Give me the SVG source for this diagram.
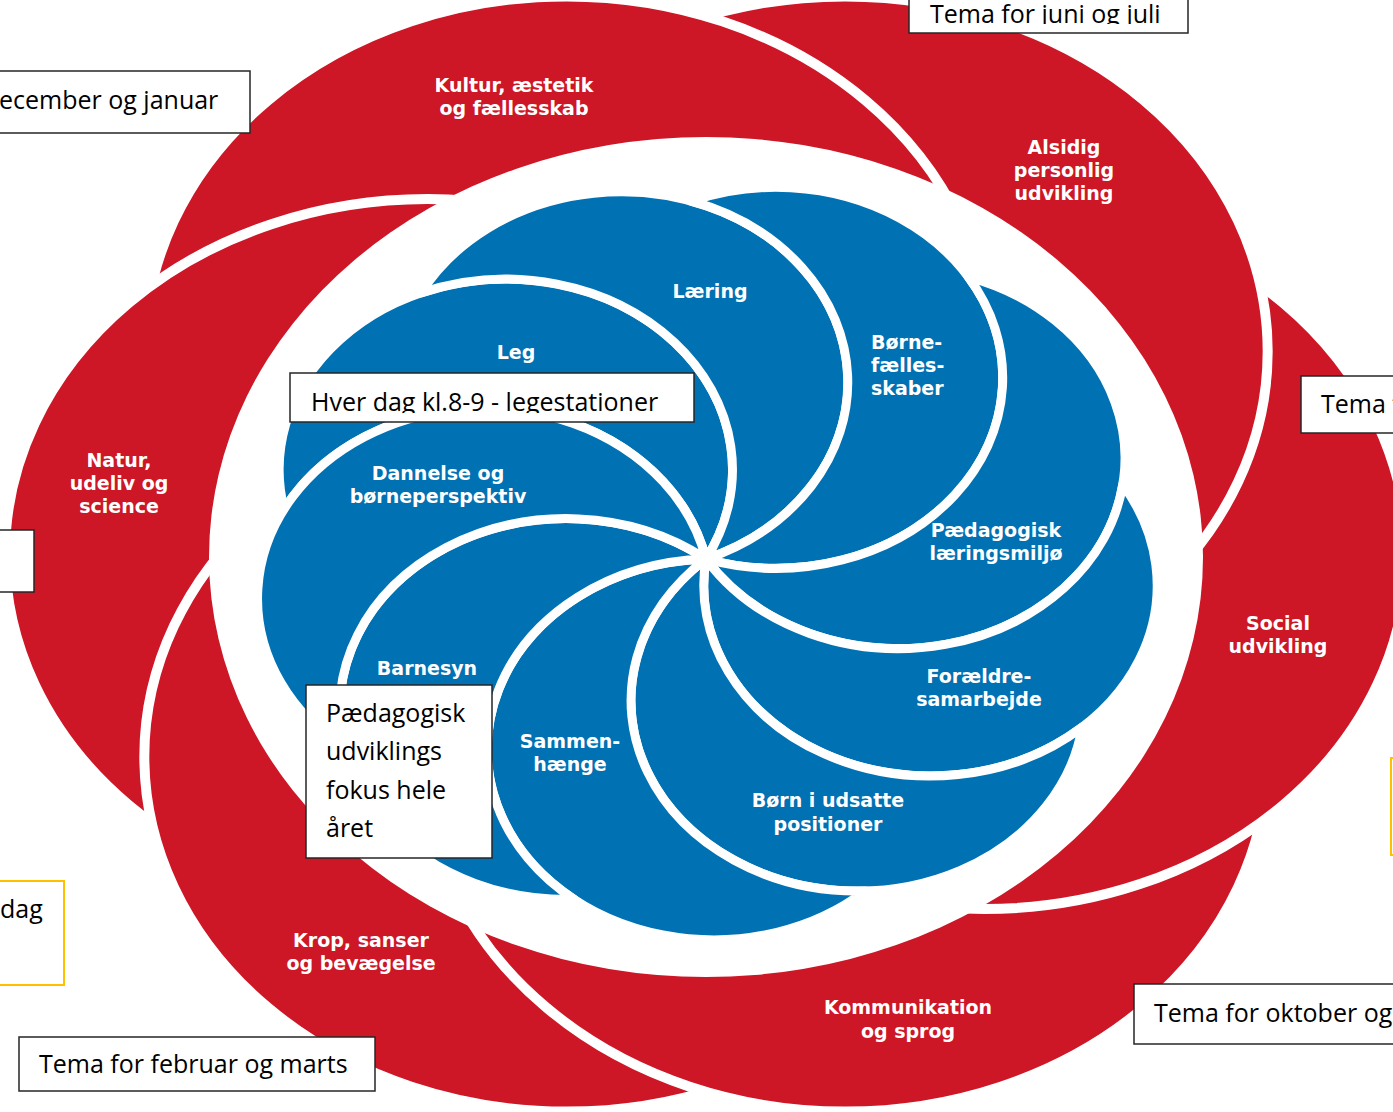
<svg xmlns="http://www.w3.org/2000/svg" width="1393" height="1112" viewBox="0 0 1393 1112">
<style>
.red{fill:#CD1626;stroke:#fff;stroke-width:10;vector-effect:non-scaling-stroke}
.blue{fill:#0071B3;stroke:#fff;stroke-width:9;stroke-linejoin:round;vector-effect:non-scaling-stroke}
.pl{font-family:"DejaVu Sans","Liberation Sans",sans-serif;font-weight:bold;font-size:19px;fill:#fff;text-anchor:middle}
.box{fill:#fff;stroke:#262626;stroke-width:1.5}
.ybox{fill:#fff;stroke:#FFC000;stroke-width:2}
.bt{font-family:"Open Sans","Noto Sans",sans-serif;font-size:25px;fill:#000}
</style>
<defs>
<clipPath id="lower" clipPathUnits="userSpaceOnUse"><rect x="-1000" y="0" width="2000" height="1000"/></clipPath>
<clipPath id="clipJuni"><rect x="900" y="0" width="300" height="24"/></clipPath>
<clipPath id="clipHver"><rect x="280" y="370" width="420" height="43"/></clipPath>
</defs>
<rect width="1393" height="1112" fill="#fff"/>

<g id="red-petals" transform="translate(706,554) scale(1.19,1)">
<circle id="petal-social" cx="234" cy="0" r="355" class="red"/>
<circle id="petal-alsidig" cx="117" cy="-202.6" r="355" class="red"/>
<circle id="petal-kultur" cx="-117" cy="-202.6" r="355" class="red"/>
<circle id="petal-natur" cx="-234" cy="0" r="355" class="red"/>
<circle id="petal-krop" cx="-117" cy="202.6" r="355" class="red"/>
<circle id="petal-kommunikation" cx="117" cy="202.6" r="355" class="red"/>
<circle id="petal-social-top" cx="234" cy="0" r="355" class="red" clip-path="url(#lower)"/>
</g>

<ellipse id="white-ring" cx="706" cy="557" rx="497" ry="420" fill="#fff"/>

<g id="blue-petals" transform="translate(706,559) scale(1.19,1)">
<path id="petal-leg" class="blue" d="M0,0 A190.5,190.5 0 1 0 -354.5,-49.8 A190.5,190.5 0 0 1 0,0 Z"/>
<path id="petal-laering" class="blue" d="M0,0 A190.5,190.5 0 1 0 -239.5,-266 A190.5,190.5 0 0 1 0,0 Z"/>
<path id="petal-boernefaellesskaber" class="blue" d="M0,0 A190.5,190.5 0 1 0 -12.5,-357.8 A190.5,190.5 0 0 1 0,0 Z"/>
<path id="petal-paedagogisk" class="blue" d="M0,0 A190.5,190.5 0 1 0 220.4,-282.1 A190.5,190.5 0 0 1 0,0 Z"/>
<path id="petal-foraeldre" class="blue" d="M0,0 A190.5,190.5 0 1 0 350.2,-74.4 A190.5,190.5 0 0 1 0,0 Z"/>
<path id="petal-boern-udsatte" class="blue" d="M0,0 A190.5,190.5 0 1 0 316.1,168.1 A190.5,190.5 0 0 1 0,0 Z"/>
<path id="petal-sammenhaenge" class="blue" d="M0,0 A190.5,190.5 0 1 0 134.1,331.9 A190.5,190.5 0 0 1 0,0 Z"/>
<path id="petal-barnesyn" class="blue" d="M0,0 A190.5,190.5 0 1 0 -110.6,340.5 A190.5,190.5 0 0 1 0,0 Z"/>
<path id="petal-dannelse" class="blue" d="M0,0 A190.5,190.5 0 1 0 -303.6,189.7 A190.5,190.5 0 0 1 0,0 Z"/>
</g>

<g id="red-labels" class="pl">
<text x="514" y="92">Kultur, æstetik</text>
<text x="514" y="115">og fællesskab</text>
<text x="1064" y="154">Alsidig</text>
<text x="1064" y="177">personlig</text>
<text x="1064" y="200">udvikling</text>
<text x="119" y="467">Natur,</text>
<text x="119" y="490">udeliv og</text>
<text x="119" y="513">science</text>
<text x="1278" y="630">Social</text>
<text x="1278" y="653">udvikling</text>
<text x="908" y="1014">Kommunikation</text>
<text x="908" y="1038">og sprog</text>
<text x="361" y="947">Krop, sanser</text>
<text x="361" y="970">og bevægelse</text>
</g>

<g id="blue-labels" class="pl">
<text x="710" y="298">Læring</text>
<text x="516" y="359">Leg</text>
<text x="871" y="349" style="text-anchor:start">Børne-</text>
<text x="871" y="372" style="text-anchor:start">fælles-</text>
<text x="871" y="395" style="text-anchor:start">skaber</text>
<text x="438" y="480">Dannelse og</text>
<text x="438" y="503">børneperspektiv</text>
<text x="996" y="537">Pædagogisk</text>
<text x="996" y="560">læringsmiljø</text>
<text x="979" y="683">Forældre-</text>
<text x="979" y="706">samarbejde</text>
<text x="427" y="675">Barnesyn</text>
<text x="570" y="748">Sammen-</text>
<text x="570" y="771">hænge</text>
<text x="828" y="807">Børn i udsatte</text>
<text x="828" y="831">positioner</text>
</g>

<g id="box-december">
<rect class="box" x="-2" y="71" width="252" height="62"/>
<text class="bt" x="-1" y="109">ecember og januar</text>
</g>
<g id="box-juni">
<rect class="box" x="909" y="-2" width="279" height="35"/>
<text class="bt" x="930" y="23" clip-path="url(#clipJuni)">Tema for juni og juli</text>
</g>
<g id="box-right">
<rect class="box" x="1301" y="376" width="100" height="57"/>
<text class="bt" x="1321" y="413">Tema f</text>
</g>
<g id="box-left">
<rect class="box" x="-2" y="530" width="36" height="62"/>
</g>
<g id="box-dag">
<rect class="ybox" x="-2" y="881" width="66" height="104"/>
<text class="bt" x="0" y="918">dag</text>
</g>
<g id="box-right-yellow">
<rect class="ybox" x="1391" y="758" width="20" height="97"/>
</g>
<g id="box-oktober">
<rect class="box" x="1134" y="984" width="270" height="60"/>
<text class="bt" x="1154" y="1022">Tema for oktober og</text>
</g>
<g id="box-februar">
<rect class="box" x="19" y="1037" width="356" height="54"/>
<text class="bt" x="39" y="1073">Tema for februar og marts</text>
</g>
<g id="box-hver-dag">
<rect class="box" x="290" y="373" width="404" height="49"/>
<text class="bt" x="311" y="411" clip-path="url(#clipHver)">Hver dag kl.8-9 - legestationer</text>
</g>
<g id="box-paedagogisk">
<rect class="box" x="306" y="685" width="186" height="173"/>
<text class="bt" x="326" y="722">Pædagogisk</text>
<text class="bt" x="326" y="760">udviklings</text>
<text class="bt" x="326" y="799">fokus hele</text>
<text class="bt" x="326" y="837">året</text>
</g>
</svg>
